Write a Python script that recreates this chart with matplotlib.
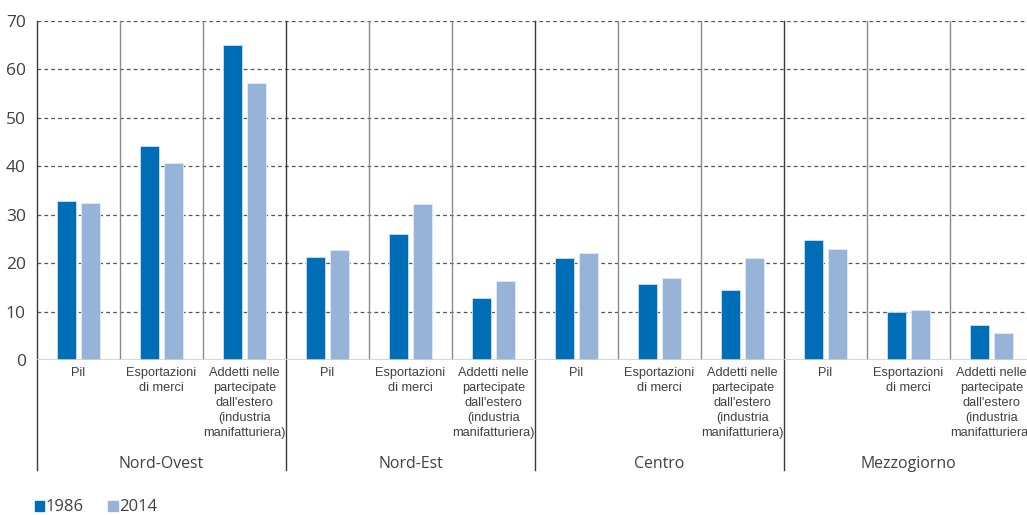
import matplotlib
matplotlib.use('Agg')
import matplotlib.pyplot as plt
import matplotlib.patches as mpatches
import numpy as np

# Data
aree = ['Nord-Ovest', 'Nord-Est', 'Centro', 'Mezzogiorno']
voci = ['Pil', 'Esportazioni\ndi merci',
        "Addetti nelle\npartecipate\ndall'estero\n(industria\nmanifatturiera)"]
valori_1986 = [32.9, 44.2, 65.1,
               21.3, 26.0, 12.8,
               21.1, 15.7, 14.5,
               24.8, 9.9, 7.2]
valori_2014 = [32.4, 40.7, 57.2,
               22.7, 32.2, 16.3,
               22.1, 16.9, 21.1,
               22.9, 10.3, 5.6]

col_1986 = '#006db7'
col_2014 = '#97b3d7'
testo = '#404040'

fig = plt.figure(figsize=(10.27, 5.15), dpi=100)
ax = fig.add_axes([37 / 1027, 1 - 360 / 515, 996 / 1027, 339 / 515])

n = len(valori_1986)
x = np.arange(n) + 0.5
larghezza = 0.23
ax.bar(x - 0.145, valori_1986, larghezza, color=col_1986, edgecolor='#cfe0f0', linewidth=0.6, zorder=3)
ax.bar(x + 0.145, valori_2014, larghezza, color=col_2014, edgecolor='#e3ecf6', linewidth=0.6, zorder=3)

ax.set_xlim(0, n)
ax.set_ylim(0, 70)
ax.set_yticks(range(0, 71, 10))
ax.set_xticks([])
ax.tick_params(axis='y', length=0, pad=8, labelsize=12.5, labelcolor=testo)
for lab in ax.get_yticklabels():
    lab.set_fontfamily('Open Sans')

for s in ['top', 'right', 'left', 'bottom']:
    ax.spines[s].set_visible(False)

# dashed horizontal grid
for v in range(10, 71, 10):
    ax.axhline(v, color='#555555', lw=0.9, ls=(0, (3, 2.5)), zorder=1)
ax.axhline(0, color='#d0d0d0', lw=1.2, zorder=4)

# vertical separators between categories
for i in range(1, n):
    if i % 3 == 0:
        ax.plot([i, i], [-0.324, 1], transform=ax.get_xaxis_transform(),
                color='#3a3a3a', lw=1.0, clip_on=False, zorder=2)
    else:
        ax.plot([i, i], [0, 70], color='#8a8a8a', lw=1.0, zorder=2)
ax.plot([0, 0], [-0.324, 1], transform=ax.get_xaxis_transform(),
        color='#3a3a3a', lw=1.0, clip_on=False, zorder=2)

# category labels
for i in range(n):
    ax.text(x[i], -0.02, voci[i % 3], transform=ax.get_xaxis_transform(),
            ha='center', va='top', fontsize=9.2, color=testo,
            family='Liberation Sans', linespacing=1.33)

# group labels
for g, nome in enumerate(aree):
    ax.text(g * 3 + 1.5, -0.306, nome, transform=ax.get_xaxis_transform(),
            ha='center', va='center', fontsize=11.4, color=testo, family='Open Sans')

# legend
maniglie = [mpatches.Patch(color=col_1986, label='1986'),
            mpatches.Patch(color=col_2014, label='2014')]
leg = fig.legend(handles=maniglie, loc='lower left', bbox_to_anchor=(0.019, -0.03),
                 ncol=2, frameon=False, handlelength=0.55, handleheight=0.55,
                 handletextpad=0.1, columnspacing=1.5,
                 prop={'family': 'Open Sans', 'size': 12})
for t in leg.get_texts():
    t.set_color(testo)

fig.savefig('out.png', dpi=100)
